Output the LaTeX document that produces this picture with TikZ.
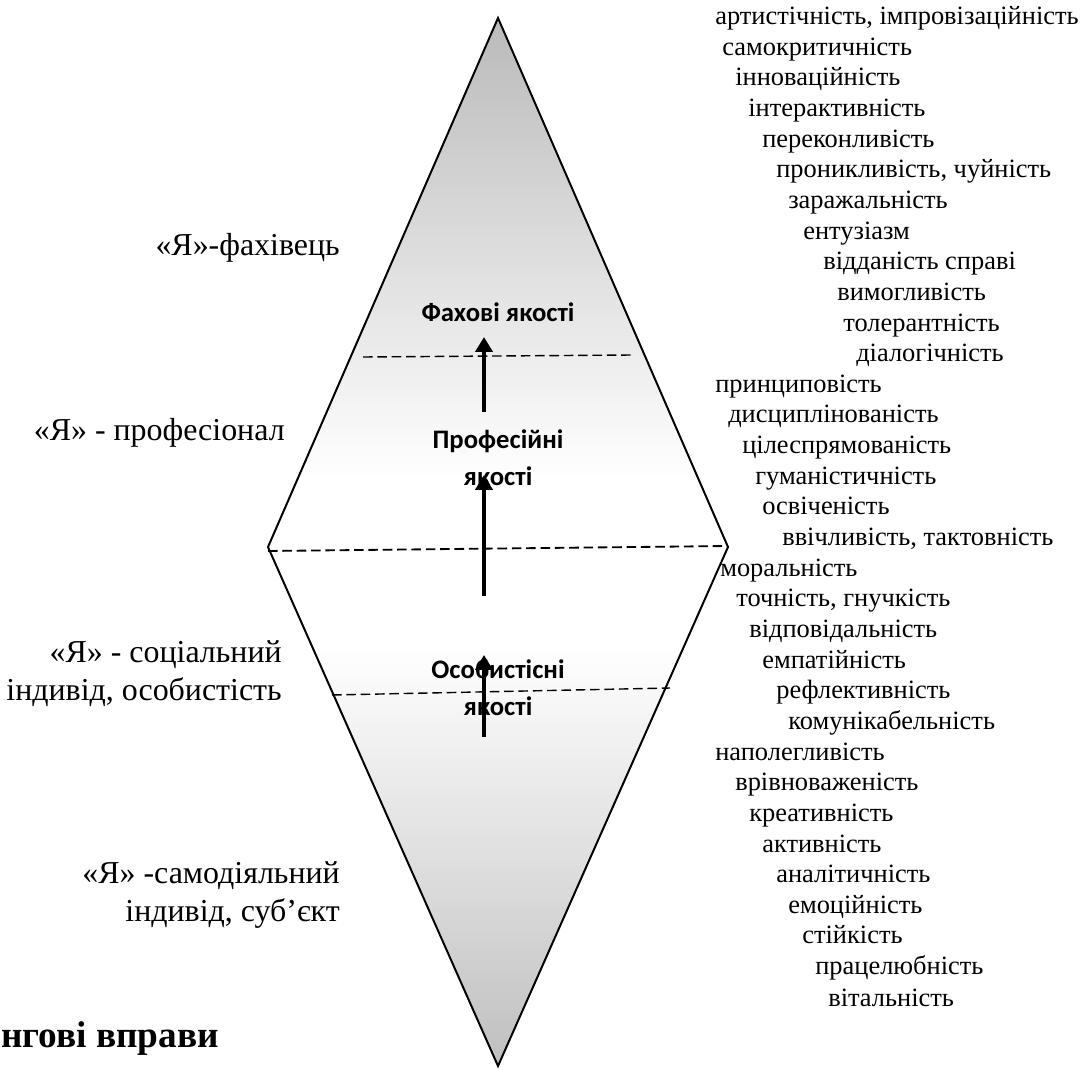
\documentclass[tikz,border=0pt]{standalone}
\usepackage{fontspec}
\setmainfont{Liberation Serif}
\newfontfamily\calibrifont{Carlito}
\usetikzlibrary{arrows.meta}
\definecolor{rhtop}{gray}{0.73}
\definecolor{rhbot}{gray}{0.75}
\pgfdeclareverticalshading{rhombfill}{100bp}{color(0bp)=(rhbot); color(25bp)=(rhbot); color(45bp)=(white); color(53bp)=(white); color(75bp)=(rhtop); color(100bp)=(rhtop)}

\begin{document}
\begin{tikzpicture}[x=0.025cm, y=-0.025cm,
    quality/.style={anchor=west, inner sep=0pt, font=\fontsize{18.8}{22}\selectfont, text height=13.2pt, text depth=4.7pt},
    selflabel/.style={anchor=east, inner sep=0pt, align=right, font=\fontsize{22.7}{27}\selectfont},
    innerlabel/.style={inner sep=0pt, align=center, font=\calibrifont\bfseries\fontsize{19}{26.5}\selectfont},
    leveldash/.style={dash pattern=on 6.8pt off 3.4pt, line width=1pt},
    uparrow/.style={-{Triangle[length=10.5pt, width=12pt]}, line width=3.5pt}
]
\useasboundingbox (0,0) rectangle (1084,1070);

% Rhombus
\coordinate (top) at (498,18);
\coordinate (right) at (728,547);
\coordinate (bottom) at (498,1066);
\coordinate (left) at (268,547);
\shadedraw[shading=rhombfill, line width=1.4pt, line join=miter]
    (top) -- (right) -- (bottom) -- (left) -- cycle;

% Levels
\draw[leveldash] (363,357) -- (632,355);
\draw[leveldash, line width=1.3pt] (268,551) -- (728,546);
\draw[leveldash] (332,695) -- (670,688);

% Inner labels
\node[innerlabel] (fah) at (498,312) {Фахові якості};
\node[innerlabel] (prof) at (498,458) {Професійні\\якості};
\node[innerlabel] (osob) at (498,688) {Особистісні\\якості};

% Arrows
\coordinate (a1) at (484,412);
\coordinate (b1) at (484,337);
\coordinate (a2) at (484,596);
\coordinate (b2) at (484,475);
\coordinate (a3) at (484,737);
\coordinate (b3) at (484,655);
\draw[uparrow] (a1) -- (b1);
\draw[uparrow] (a2) -- (b2);
\draw[uparrow] (a3) -- (b3);

% Left labels
\node[selflabel] (ya1) at (340,248) {«Я»-фахівець};
\node[selflabel] (ya2) at (285,433) {«Я» - професіонал};
\node[selflabel] (ya3) at (282,674) {«Я» - соціальний\\індивід, особистість};
\node[selflabel] (ya4) at (340,895) {«Я» -самодіяльний\\індивід, суб’єкт};

% Qualities
\node[quality] (q1) at (715,19) {артистічність, імпровізаційність};
\node[quality] (q2) at (722,50) {самокритичність};
\node[quality] (q3) at (735,80) {інноваційність};
\node[quality] (q4) at (748,111) {інтерактивність};
\node[quality] (q5) at (762,142) {переконливість};
\node[quality] (q6) at (776,172) {проникливість, чуйність};
\node[quality] (q7) at (788,203) {заражальність};
\node[quality] (q8) at (803,234) {ентузіазм};
\node[quality] (q9) at (823,264) {відданість справі};
\node[quality] (q10) at (837,295) {вимогливість};
\node[quality] (q11) at (843,326) {толерантність};
\node[quality] (q12) at (856,356) {діалогічність};
\node[quality] (q13) at (715,387) {принциповість};
\node[quality] (q14) at (728,417) {дисциплінованість};
\node[quality] (q15) at (742,448) {цілеспрямованість};
\node[quality] (q16) at (755,479) {гуманістичність};
\node[quality] (q17) at (762,509) {освіченість};
\node[quality] (q18) at (782,540) {ввічливість, тактовність};
\node[quality] (q19) at (720,571) {моральність};
\node[quality] (q20) at (736,601) {точність, гнучкість};
\node[quality] (q21) at (749,632) {відповідальність};
\node[quality] (q22) at (762,663) {емпатійність};
\node[quality] (q23) at (776,693) {рефлективність};
\node[quality] (q24) at (788,724) {комунікабельність};
\node[quality] (q25) at (715,755) {наполегливість};
\node[quality] (q26) at (735,785) {врівноваженість};
\node[quality] (q27) at (749,816) {креативність};
\node[quality] (q28) at (762,847) {активність};
\node[quality] (q29) at (776,877) {аналітичність};
\node[quality] (q30) at (788,908) {емоційність};
\node[quality] (q31) at (802,938) {стійкість};
\node[quality] (q32) at (815,969) {працелюбність};
\node[quality] (q33) at (828,1001) {вітальність};

% Heading fragment
\node[anchor=west, inner sep=0pt, font=\bfseries\fontsize{26.5}{30}\selectfont] (head) at (1,1039) {нгові вправи};

\end{tikzpicture}
\end{document}
